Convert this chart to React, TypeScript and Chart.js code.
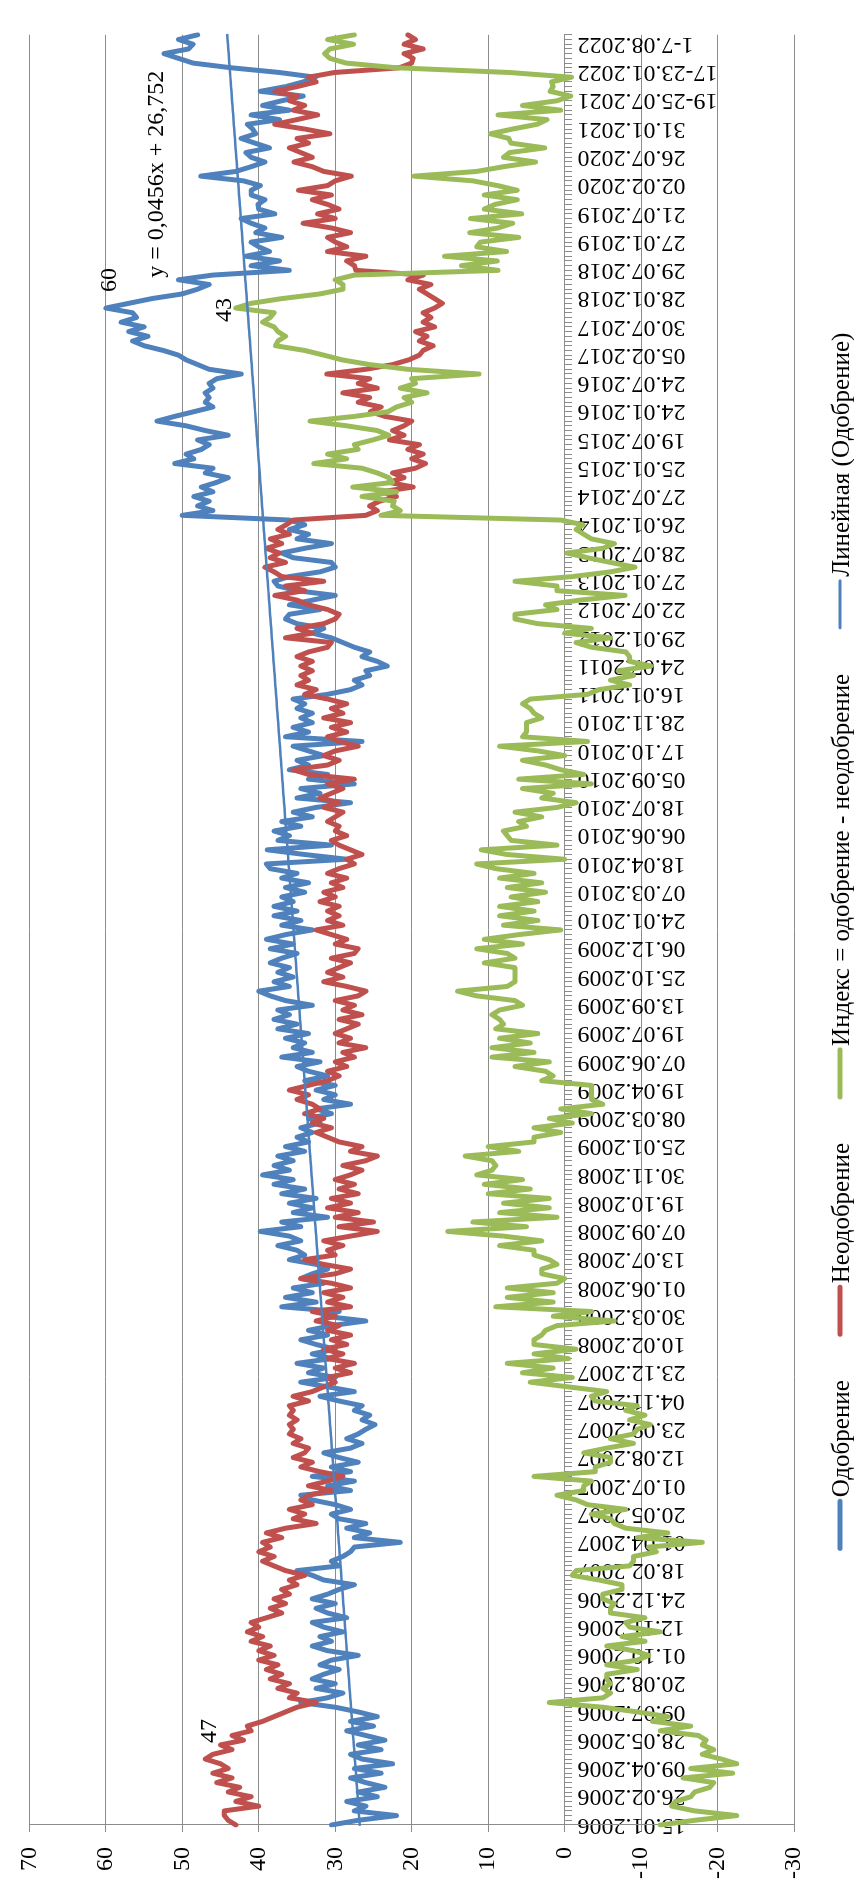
import React, { useEffect, useRef } from 'react';
import { Chart, registerables } from 'chart.js';

Chart.register(...registerables);

// ---- data ----
const tickLabels: string[] = [
  '15.01.2006', '26.02.2006', '09.04.2006', '28.05.2006', '09.07.2006', '20.08.2006', '01.10.2006', '12.11.2006',
  '24.12.2006', '18.02.2007', '01.04.2007', '20.05.2007', '01.07.2007', '12.08.2007', '23.09.2007', '04.11.2007',
  '23.12.2007', '10.02.2008', '30.03.2008', '01.06.2008', '13.07.2008', '07.09.2008', '19.10.2008', '30.11.2008',
  '25.01.2009', '08.03.2009', '19.04.2009', '07.06.2009', '19.07.2009', '13.09.2009', '25.10.2009', '06.12.2009',
  '24.01.2010', '07.03.2010', '18.04.2010', '06.06.2010', '18.07.2010', '05.09.2010', '17.10.2010', '28.11.2010',
  '16.01.2011', '24.07.2011', '29.01.2012', '22.07.2012', '27.01.2013', '28.07.2013', '26.01.2014', '27.07.2014',
  '25.01.2015', '19.07.2015', '24.01.2016', '24.07.2016', '05.02.2017', '30.07.2017', '28.01.2018', '29.07.2018',
  '27.01.2019', '21.07.2019', '02.02.2020', '26.07.2020', '31.01.2021', '19-25.07.2021', '17-23.01.2022', '1-7.08.2022',
];

const approval: number[] = [
  30.5, 27, 22, 27.5, 26, 28.5, 24.5, 27, 23.5, 26,
  28, 24, 27.5, 22.5, 26.5, 28, 24, 27, 23.5, 26,
  28.5, 25, 28, 24.5, 27, 30, 34.5, 31, 29, 32.5,
  30, 33, 31.5, 29.5, 32, 30.5, 27, 31, 33, 30.5,
  32, 29, 31.5, 33, 28.5, 31, 32.5, 30, 33, 31,
  29.5, 27.5, 31.5, 33, 35, 29.5, 30.5, 29, 28, 27.5,
  21.5, 27.5, 25.5, 28.5, 26, 29.5, 30.5, 28, 30, 33,
  34.5, 28, 31, 27.5, 33, 28, 30.5, 27, 29.5, 31.5,
  28, 26.5, 28.5, 27, 26, 24.8, 26.5, 25.5, 27.5, 26.5,
  29.5, 32, 27.5, 31, 34.5, 30, 33.5, 31.5, 35, 30.5,
  33, 30, 32.5, 34.5, 31, 33.5, 30.5, 26, 31.5, 29.5,
  37, 32.5, 36.5, 33, 35.5, 31.5, 34.5, 33, 31, 32.5,
  36, 34, 35, 37.5, 34.5, 36, 39.8, 34.5, 37, 31,
  35.5, 33, 36, 32.5, 37, 34, 38, 35.5, 39.5, 36,
  38, 35.5, 37.5, 34, 36.5, 33.5, 35, 33, 34.5, 32,
  33.5, 30.5, 32.5, 28, 31.5, 30, 32.5, 30, 34, 31,
  33.5, 35, 32, 37, 33, 35.5, 34, 36.5, 33.5, 37.5,
  35, 38, 36, 37.5, 33, 36.5, 38.5, 40, 36, 38,
  35.5, 37.5, 36, 38.5, 37, 35, 38.5, 35.5, 39, 36.5,
  33, 37, 34.5, 38, 35, 38, 35.5, 37, 34, 36.5,
  33.5, 37, 35, 38.5, 39, 28.5, 34, 38.9, 30.5, 37.5,
  36, 38, 34.5, 37, 33, 35.5, 32.5, 28, 35, 32,
  34.5, 27.5, 33.5, 31, 36, 33.5, 35, 31.5, 33.5, 35.5,
  26.5, 36.5, 33.5, 35.5, 33, 34.5, 33, 35, 34, 35.5,
  31, 28, 26.5, 27.5, 25.5, 26, 23.2, 24.5, 26.5, 25.5,
  27.5, 29, 30.5, 33, 31.5, 35, 36.5, 36, 32, 36,
  33, 30, 35, 37.5, 38, 36, 32, 30, 30.5, 35.5,
  37, 34, 30.5, 35, 33.5, 36, 34, 36, 50, 46,
  48, 46.5, 48.5, 46, 47.5, 45.5, 44, 47, 46, 51,
  48.5, 49.5, 47.5, 46.5, 48, 44, 47, 49.5, 53.3, 51,
  48.5, 46, 47, 46.5, 47, 46, 46.5, 45.5, 42.3, 46.5,
  48, 49.5, 50.5, 52.5, 55, 56.5, 54.5, 57, 55, 58,
  56, 56.5, 60, 57, 54, 50, 48, 46.5, 50.5, 46,
  36, 41, 37.3, 41.7, 38.6, 40, 41, 37, 40.4, 39.2,
  41, 42.3, 37.9, 40, 40.1, 39.2, 41, 41, 39.8, 42,
  47.6, 43, 41, 39.2, 41, 41.7, 38.6, 40.5, 42.3, 40.4,
  40.8, 41.5, 37.3, 41, 36, 39.5, 37, 34.2, 39.8, 36.5,
  34.2, 32.6, 37.3, 43.6, 48.6, 50.5, 52.4, 49.2, 48.6, 50.5,
  48,
];

const disapproval: number[] = [
  43, 44, 44.5, 44.5, 40, 43, 41, 44, 42.5, 45.5,
  43.5, 46, 44, 45, 47, 46, 43.5, 45, 42, 43.5,
  41, 41.5, 39.5, 38, 36.5, 35, 32.5, 36, 35, 37.5,
  36, 38.5, 37, 39, 37.5, 40, 38, 40, 38.5, 41,
  39.5, 41.5, 40, 41, 39, 37, 38.5, 36.5, 38, 36,
  37, 35, 36, 34, 36.5, 38, 39.5, 38, 40, 38.5,
  39.5, 37, 39, 36.5, 32.5, 35.5, 34, 36, 33, 34.5,
  33.5, 30.5, 33.5, 31, 29, 32, 34.5, 33, 35.5, 34,
  33.5, 35.5, 34.5, 36, 35.5, 36, 35, 36, 35.5, 36,
  33.5, 35.5, 33, 31.5, 30, 31, 28, 30, 27.5, 31,
  29, 31.5, 28.5, 30.5, 28, 31, 29.5, 32.5, 30, 33,
  28, 31, 29, 31.5, 28, 30.5, 34.5, 30, 28, 31.5,
  34, 30, 31, 29, 31.5, 28, 24.5, 29.5, 25, 30,
  27, 31, 28, 30.5, 27, 29.5, 27.5, 30, 28, 26.5,
  29, 26, 24.5, 28, 26.5, 29.5, 31, 32.5, 30.5, 33,
  31.5, 34, 32, 33, 35, 33.5, 36, 33.5, 31, 29.5,
  31, 28.5, 30, 27.5, 29, 26, 29.5, 28, 30, 28.5,
  27, 29.5, 26.5, 29, 27.5, 30, 27, 26, 28.5, 31.5,
  29, 31, 29.5, 28, 30.5, 27.5, 27, 30, 28.5, 30.5,
  32.5, 29, 31, 29.5, 31, 29.5, 32, 30, 31.5, 29,
  30.5, 28.5, 31, 29.5, 27.5, 28.5, 26.5, 28, 29.5, 30.5,
  28.5, 30, 29.5, 31, 30, 29, 31.5, 29.5, 32, 30.5,
  29, 31, 27.5, 33.5, 35.5, 31, 29.5, 31.5, 30, 27,
  29.5, 31, 28.5, 30.5, 28, 31.5, 29, 30.5, 28.5, 31,
  34, 32.5, 35, 33.5, 34.5, 33, 34.5, 33, 35, 33.5,
  31, 30.5, 36.5, 33, 35, 31.5, 30, 29.5, 31, 33.5,
  35, 37.9, 34, 36.5, 31.5, 37, 38, 39.2, 36.5, 38.5,
  37.3, 39, 37, 38.5, 36, 37.5, 36.4, 35.5, 26, 24.5,
  25.5, 24.2, 22, 24, 19.8, 23, 21, 22.5, 19.5, 18.2,
  20, 18.5, 20.5, 19, 22.9, 21, 22.5, 21, 20, 23.5,
  25.4, 24, 27, 25.5, 29, 24.5, 27, 25.5, 31.1, 26,
  22.5, 20.4, 19, 18.5, 17.2, 19, 18, 19.5, 17, 18.5,
  17.5, 18.5, 17, 16, 17, 18, 19, 17.5, 20.5, 18.5,
  27.3, 27.5, 28.5, 26, 31, 28.5, 30, 31, 28, 30.5,
  34.2, 30, 32.3, 29.5, 31, 33, 30.5, 34.8, 31, 30,
  27.9, 31.5, 33, 35.4, 33, 34.5, 36, 33.5, 35, 30.7,
  34, 37.9, 35, 32.3, 35.5, 34, 36, 35, 37.9, 35,
  32.5, 33.5, 30.1, 21.6, 20, 19.8, 21, 18.5, 21, 19.5,
  20.5,
];

const approvalIndex: number[] = [
  -12.5, -17, -22.5, -17, -14, -14.5, -16.5, -17, -19, -19.5,
  -15.5, -22, -16.5, -22.5, -20.5, -18, -19.5, -18, -18.5, -17.5,
  -12.5, -16.5, -11.5, -13.5, -9.5, -5, 2, -5, -6, -5,
  -6, -5.5, -5.5, -9.5, -5.5, -9.5, -11, -9, -5.5, -10.5,
  -7.5, -12.5, -8.5, -8, -10.5, -6, -6, -6.5, -5, -5,
  -7.5, -7.5, -4.5, -1, -1.5, -8.5, -9, -9, -12, -11,
  -18, -9.5, -13.5, -8, -6.5, -6, -3.5, -8, -3, -1.5,
  1, -2.5, -2.5, -3.5, 4, -4, -4, -6, -6, -2.5,
  -5.5, -9, -6, -9, -9.5, -11.2, -8.5, -10.5, -8, -9.5,
  -4, -3.5, -5.5, -0.5, 4.5, -1, 5.5, 1.5, 7.5, -0.5,
  4, -1.5, 4, 4, 3, 2.5, 1, -6.5, 1.5, -3.5,
  9, 1.5, 7.5, 1.5, 7.5, 1, 0, 3, 3, 1,
  2, 4, 4, 8.5, 3, 8, 15.3, 5, 12, 1,
  8.5, 2, 8, 2, 10, 4.5, 10.5, 5.5, 11.5, 9.5,
  9, 9.5, 13, 6, 10, 4, 4, 0.5, 4, -1,
  2, -3.5, 0.5, -5, -3.5, -3.5, -3.5, -3.5, 3, 1.5,
  2.5, 6.5, 2, 9.5, 4, 9.5, 4.5, 8.5, 3.5, 9,
  8, 8.5, 9.5, 8.5, 5.5, 6.5, 11.5, 14, 7.5, 6.5,
  6.5, 6.5, 6.5, 10.5, 6.5, 7.5, 11.5, 5.5, 10.5, 6,
  0.5, 8, 3.5, 8.5, 4, 8.5, 3.5, 7, 2.5, 7.5,
  3, 8.5, 4, 9, 11.5, 0, 7.5, 10.9, 1, 7,
  7.5, 8, 5, 6, 3, 6.5, 1, -1.5, 3, 1.5,
  5.5, -3.5, 6, -2.5, 0.5, 2.5, 5.5, 0, 3.5, 8.5,
  -3, 5.5, 5, 5, 5, 3, 4, 4.5, 5.5, 4.5,
  -3, -4.5, -8.5, -6, -9, -7, -11.3, -8.5, -8.5, -8,
  -3.5, -1.5, -6, 0, -3.5, 3.5, 6.5, 6.5, 1, 2.5,
  -2, -7.9, 1, 1, 6.5, -1, -6, -9.2, -6, -3,
  -0.3, -5, -6.5, -3.5, -2.5, -1.5, -2.4, 0.5, 24, 21.5,
  22.5, 22.3, 26.5, 22, 27.7, 22.5, 23, 24.5, 26.5, 32.8,
  28.5, 31, 27, 27.5, 25.1, 23, 24.5, 28.5, 33.3, 27.5,
  23.1, 22, 20, 21, 18, 21.5, 19.5, 20, 11.2, 20.5,
  25.5, 29.1, 31.5, 34, 37.8, 37.5, 36.5, 37.5, 38, 39.5,
  38.5, 38, 43, 41, 37, 32, 29, 29, 30, 27.5,
  8.7, 13.5, 8.8, 15.7, 7.6, 11.5, 11, 6, 12.4, 8.7,
  6.8, 12.3, 5.6, 10.5, 9.1, 6.2, 10.5, 6.2, 8.8, 12,
  19.7, 11.5, 8, 3.8, 8, 7.2, 2.6, 7, 7.3, 9.7,
  6.8, 3.6, 2.3, 8.7, 0.5, 5.5, 1, -0.8, 1.9, 1.5,
  1.7, -0.9, 7.2, 22, 28.6, 30.7, 31.4, 30.7, 27.6, 31,
  27.5,
];

const seriesNames: string[] = [
  'Одобрение',
  'Неодобрение',
  'Индекс = одобрение - неодобрение',
  'Линейная (Одобрение)',
];

// Excel linear trendline shown on the chart
const trendSlope = 0.0456;
const trendIntercept = 26.752;
const trendLabel = 'y = 0,0456x + 26,752';

const valueMin = -30;
const valueMax = 70;
const valueStep = 10;
const labelEvery = 6;

// ---- styling ----
const W = 1881;
const H = 854;
const SERIF = "'Liberation Serif', 'Times New Roman', serif";
const BLUE = '#4F81BD';
const RED = '#C0504D';
const GREEN = '#9BBB59';
const GRID = '#8c8c8c';

const categories = approval.map((_, i) =>
  i % labelEvery === 0 ? tickLabels[i / labelEvery] ?? '' : ''
);
const trend = approval.map((_, i) => trendIntercept + trendSlope * (i + 1));

const extrasPlugin = {
  id: 'extras',
  afterDatasetsDraw(chart: any) {
    const { ctx, chartArea } = chart;
    ctx.save();
    ctx.fillStyle = '#000';
    ctx.font = `24px ${SERIF}`;
    const maxLabel = (dsIndex: number, mode: string) => {
      const data = chart.data.datasets[dsIndex].data as number[];
      let mi = 0;
      for (let i = 1; i < data.length; i++) if (data[i] > data[mi]) mi = i;
      const el = chart.getDatasetMeta(dsIndex).data[mi];
      const txt = String(Math.round(data[mi]));
      if (mode === 'right') {
        ctx.textAlign = 'left';
        ctx.textBaseline = 'middle';
        ctx.fillText(txt, el.x + 16, el.y + 4);
      } else {
        ctx.textAlign = 'center';
        ctx.textBaseline = 'alphabetic';
        ctx.fillText(txt, el.x - 2, el.y - 5);
      }
    };
    maxLabel(0, 'right');
    maxLabel(1, 'right');
    maxLabel(2, 'above');
    ctx.textAlign = 'left';
    ctx.textBaseline = 'alphabetic';
    ctx.fillText(trendLabel, chartArea.right - 243, chartArea.top + 134);
    ctx.restore();
  },
  afterDraw(chart: any) {
    const { ctx } = chart;
    ctx.save();
    ctx.font = `25px ${SERIF}`;
    const items = chart.data.datasets.map((ds: any) => ({
      text: ds.label as string,
      color: ds.borderColor as string,
      width: ds.borderWidth as number,
    }));
    const mw = 47;
    const gap = 4;
    const itemGap = 46;
    const widths = items.map((it: any) => ctx.measureText(it.text).width);
    const total =
      widths.reduce((a: number, b: number) => a + b, 0) +
      items.length * (mw + gap) +
      (items.length - 1) * itemGap;
    let x = (chart.width - total) / 2;
    const yLine = 840;
    const yText = 849;
    items.forEach((it: any, k: number) => {
      ctx.strokeStyle = it.color;
      ctx.lineWidth = Math.max(it.width, 3);
      ctx.lineCap = 'round';
      ctx.beginPath();
      ctx.moveTo(x, yLine);
      ctx.lineTo(x + mw, yLine);
      ctx.stroke();
      ctx.fillStyle = '#000';
      ctx.textAlign = 'left';
      ctx.textBaseline = 'alphabetic';
      ctx.fillText(it.text, x + mw + gap, yText);
      x += mw + gap + widths[k] + itemGap;
    });
    ctx.restore();
  },
};

export default function App() {
  const ref = useRef<HTMLCanvasElement>(null);

  useEffect(() => {
    if (!ref.current) return;
    const lineBase = {
      pointRadius: 0,
      pointHoverRadius: 0,
      tension: 0,
      fill: false,
      borderJoinStyle: 'round' as const,
      borderCapStyle: 'round' as const,
    };
    const chart = new Chart(ref.current, {
      type: 'line',
      data: {
        labels: categories,
        datasets: [
          { ...lineBase, label: seriesNames[0], data: approval, borderColor: BLUE, borderWidth: 5, order: 3 },
          { ...lineBase, label: seriesNames[1], data: disapproval, borderColor: RED, borderWidth: 5, order: 2 },
          { ...lineBase, label: seriesNames[2], data: approvalIndex, borderColor: GREEN, borderWidth: 5, order: 1 },
          { ...lineBase, label: seriesNames[3], data: trend, borderColor: BLUE, borderWidth: 2.5, order: 0 },
        ],
      },
      options: {
        responsive: false,
        maintainAspectRatio: false,
        devicePixelRatio: 1,
        animation: false,
        events: [],
        layout: { padding: { top: 21, right: 15, bottom: 60, left: 0 } },
        plugins: {
          legend: { display: false },
          tooltip: { enabled: false },
          title: { display: false },
        },
        scales: {
          x: {
            type: 'category',
            axis: 'x',
            position: { y: 0 } as any,
            offset: false,
            ticks: {
              autoSkip: false,
              maxRotation: 90,
              minRotation: 90,
              padding: 6,
              color: '#000',
              font: { family: SERIF, size: 24 },
            },
            grid: {
              display: true,
              drawOnChartArea: false,
              drawTicks: true,
              tickLength: 7,
              color: GRID,
              lineWidth: 1,
            },
            border: { display: true, color: GRID, width: 1 },
          },
          y: {
            type: 'linear',
            position: 'left',
            min: valueMin,
            max: valueMax,
            ticks: {
              stepSize: valueStep,
              padding: 15,
              color: '#000',
              font: { family: SERIF, size: 24 },
            },
            grid: { color: GRID, lineWidth: 1, tickLength: 7, drawTicks: true },
            border: { display: true, color: GRID, width: 1 },
            afterFit: (scale: any) => {
              scale.width = 56;
            },
          },
        },
      } as any,
      plugins: [extrasPlugin],
    });
    return () => chart.destroy();
  }, []);

  return (
    <div
      style={{
        position: 'fixed',
        left: 0,
        top: 0,
        width: W,
        height: H,
        transformOrigin: '0 0',
        transform: `translateY(${W}px) rotate(-90deg)`,
        background: '#fff',
      }}
    >
      <canvas ref={ref} width={W} height={H} style={{ display: 'block', width: W, height: H }} />
    </div>
  );
}
